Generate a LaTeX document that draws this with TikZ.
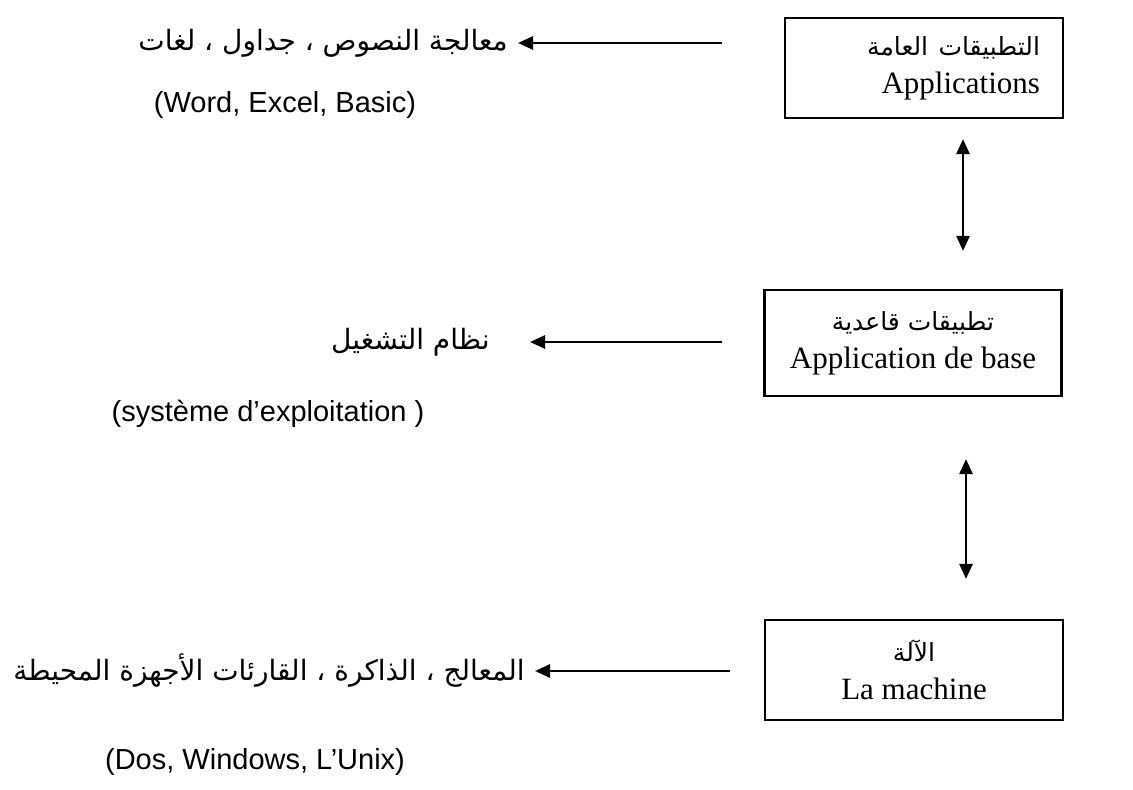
\documentclass[tikz,border=0pt]{standalone}
\usepackage{fontspec}
\setmainfont{Liberation Serif}
\newfontfamily\arabicfont[Script=Arabic]{DejaVu Sans}
\newfontfamily\arialfont{Liberation Sans}
\TeXXeTstate=1
\usetikzlibrary{positioning,calc,arrows.meta}

\tikzset{
    layer/.style={draw, line width=1.1pt, align=center, font=\fontsize{15.5}{19}\selectfont},
    artext/.style={font=\arabicfont\fontsize{14}{17}\selectfont, inner sep=5pt},
    latn/.style={font=\arialfont\fontsize{14.5}{17}\selectfont},
    toleft/.style={line width=1.3pt, -{Triangle[length=7.5pt,width=6.5pt]}},
    both/.style={line width=1.3pt, {Triangle[length=7.5pt,width=6.5pt]}-{Triangle[length=7.5pt,width=6.5pt]}}
}

\begin{document}
\begin{tikzpicture}[x=0.5pt, y=-0.5pt]
    \useasboundingbox (0,0) rectangle (1133,790);

    % Layers
    \node[layer, minimum width=139pt, minimum height=50pt, text width=116pt, inner xsep=11.5pt, align=right] (apps) at (924,68)
        {{\arabicfont\fontsize{12.5}{15}\selectfont\beginR التطبيقات العامة\endR}\\ Applications};
    \node[layer, minimum width=148.5pt, minimum height=53pt] (base) at (913,343)
        {{\arabicfont\fontsize{12.5}{15}\selectfont\beginR تطبيقات قاعدية\endR}\\ Application de base};
    \node[layer, minimum width=149pt, minimum height=50pt] (mach) at (914,670)
        {{\arabicfont\fontsize{12.5}{15}\selectfont\beginR الآلة\endR}\\ La machine};

    % Links between layers
    \coordinate (ax1) at (963,0);
    \coordinate (ax2) at (966,0);
    \draw[both, shorten <=10pt, shorten >=19pt] (apps.south -| ax1) -- (base.north -| ax1);
    \draw[both, shorten <=31pt, shorten >=20pt] (base.south -| ax2) -- (mach.north -| ax2);

    % Descriptions
    \coordinate (e1) at (722,43);
    \coordinate (e2) at (722,342);
    \coordinate (e3) at (730,671);
    \node[artext, anchor=east] (t1) at (518,43) {\beginR معالجة النصوص ، جداول ، لغات\endR};
    \node[artext, anchor=east] (t2) at (500,342) {\beginR نظام التشغيل\endR};
    \node[artext, anchor=east] (t3) at (535,671) {\beginR المعالج ، الذاكرة ، القارئات الأجهزة المحيطة\endR};
    \draw[toleft] (e1) -- (t1.east);
    \draw[toleft, shorten >=15pt] (e2) -- (t2.east);
    \draw[toleft] (e3) -- (t3.east);

    \node[latn] (p1) at (285,105) {(Word, Excel, Basic)};
    \node[latn] (p2) at (268,414) {(système d’exploitation )};
    \node[latn] (p3) at (255,762) {(Dos, Windows, L’Unix)};
\end{tikzpicture}
\end{document}
